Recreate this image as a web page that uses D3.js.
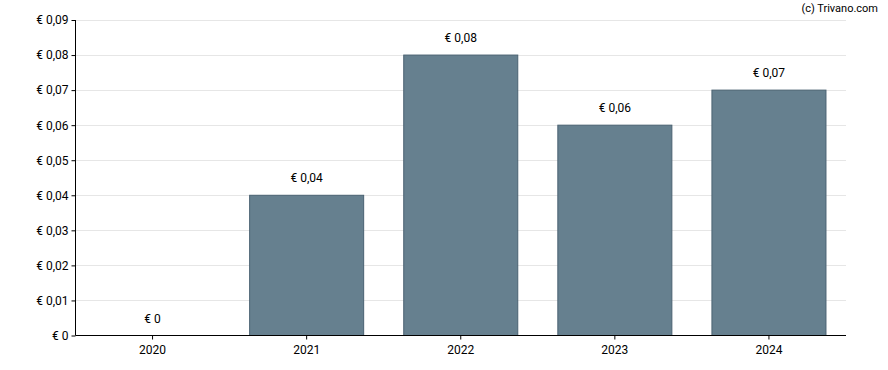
<!DOCTYPE html>
<html>
<head>
<meta charset="UTF-8">
<script src="https://cdnjs.cloudflare.com/ajax/libs/d3/7.8.5/d3.min.js"></script>
<style>
  body { margin: 0; background: #fff; }
  text { font-family: Roboto, sans-serif; fill: #000; }
</style>
</head>
<body>
<svg id="chart"></svg>
<script>
var WIDTH = 888, HEIGHT = 370;
var LEFT = 75.5, RIGHT = 846, TOP = 20, BOTTOM = 335.5;

// data
var years = ["2020", "2021", "2022", "2023", "2024"];
var dividends = [0, 0.04, 0.08, 0.06, 0.07];
var yTicks = [0, 0.01, 0.02, 0.03, 0.04, 0.05, 0.06, 0.07, 0.08, 0.09];

var fmt = function(v){
    if (v === 0) return "€ 0";
    return "€ " + v.toFixed(2).replace(".", ",");
};

var svg = d3.select("#chart").attr("width", WIDTH).attr("height", HEIGHT);

var x = d3.scaleBand().domain(years).range([LEFT, RIGHT]).paddingInner(0.26).paddingOuter(0.13);
var y = d3.scaleLinear().domain([0, 0.09]).range([BOTTOM, TOP]);

// gridlines
svg.append("g").selectAll("line")
   .data(yTicks.slice(1))
   .enter().append("line")
   .attr("x1", LEFT).attr("x2", RIGHT)
   .attr("y1", function(d){ return Math.round(y(d)) + 0.5; })
   .attr("y2", function(d){ return Math.round(y(d)) + 0.5; })
   .attr("stroke", "#e6e6e6").attr("stroke-width", 1);

// bars
svg.append("g").selectAll("rect")
   .data(dividends)
   .enter().append("rect")
   .attr("x", function(d, i){ return x(years[i]); })
   .attr("y", function(d){ return y(d); })
   .attr("width", x.bandwidth())
   .attr("height", function(d){ return BOTTOM - y(d); })
   .attr("fill", "#66808f")
   .attr("stroke", "#4a6272")
   .attr("stroke-width", 1)
   .style("display", function(d){ return d > 0 ? null : "none"; });

// value labels
svg.append("g").selectAll("text")
   .data(dividends)
   .enter().append("text")
   .attr("x", function(d, i){ return x(years[i]) + x.bandwidth() / 2; })
   .attr("y", function(d){ return y(d) - 13; })
   .attr("text-anchor", "middle")
   .style("font-size", "12px")
   .text(fmt);

// axes
var yAxis = d3.axisLeft(y).tickValues(yTicks).tickFormat(fmt).tickSize(4).tickPadding(3);
var yg = svg.append("g").attr("transform", "translate(" + LEFT + ",0)").call(yAxis);
yg.select(".domain").attr("d", "M0," + TOP + "V" + BOTTOM).attr("stroke", "#000");
yg.selectAll("text").style("font-size", "12px");

var xAxis = d3.axisBottom(x).tickSize(4).tickPadding(6);
var xg = svg.append("g").attr("transform", "translate(0," + BOTTOM + ")").call(xAxis);
xg.select(".domain").attr("d", "M" + LEFT + ",0H" + RIGHT).attr("stroke", "#000");
xg.selectAll("text").style("font-size", "12px");

svg.append("text")
   .attr("x", 878).attr("y", 12)
   .attr("text-anchor", "end")
   .style("font-size", "11px")
   .text("(c) Trivano.com");
</script>
</body>
</html>
